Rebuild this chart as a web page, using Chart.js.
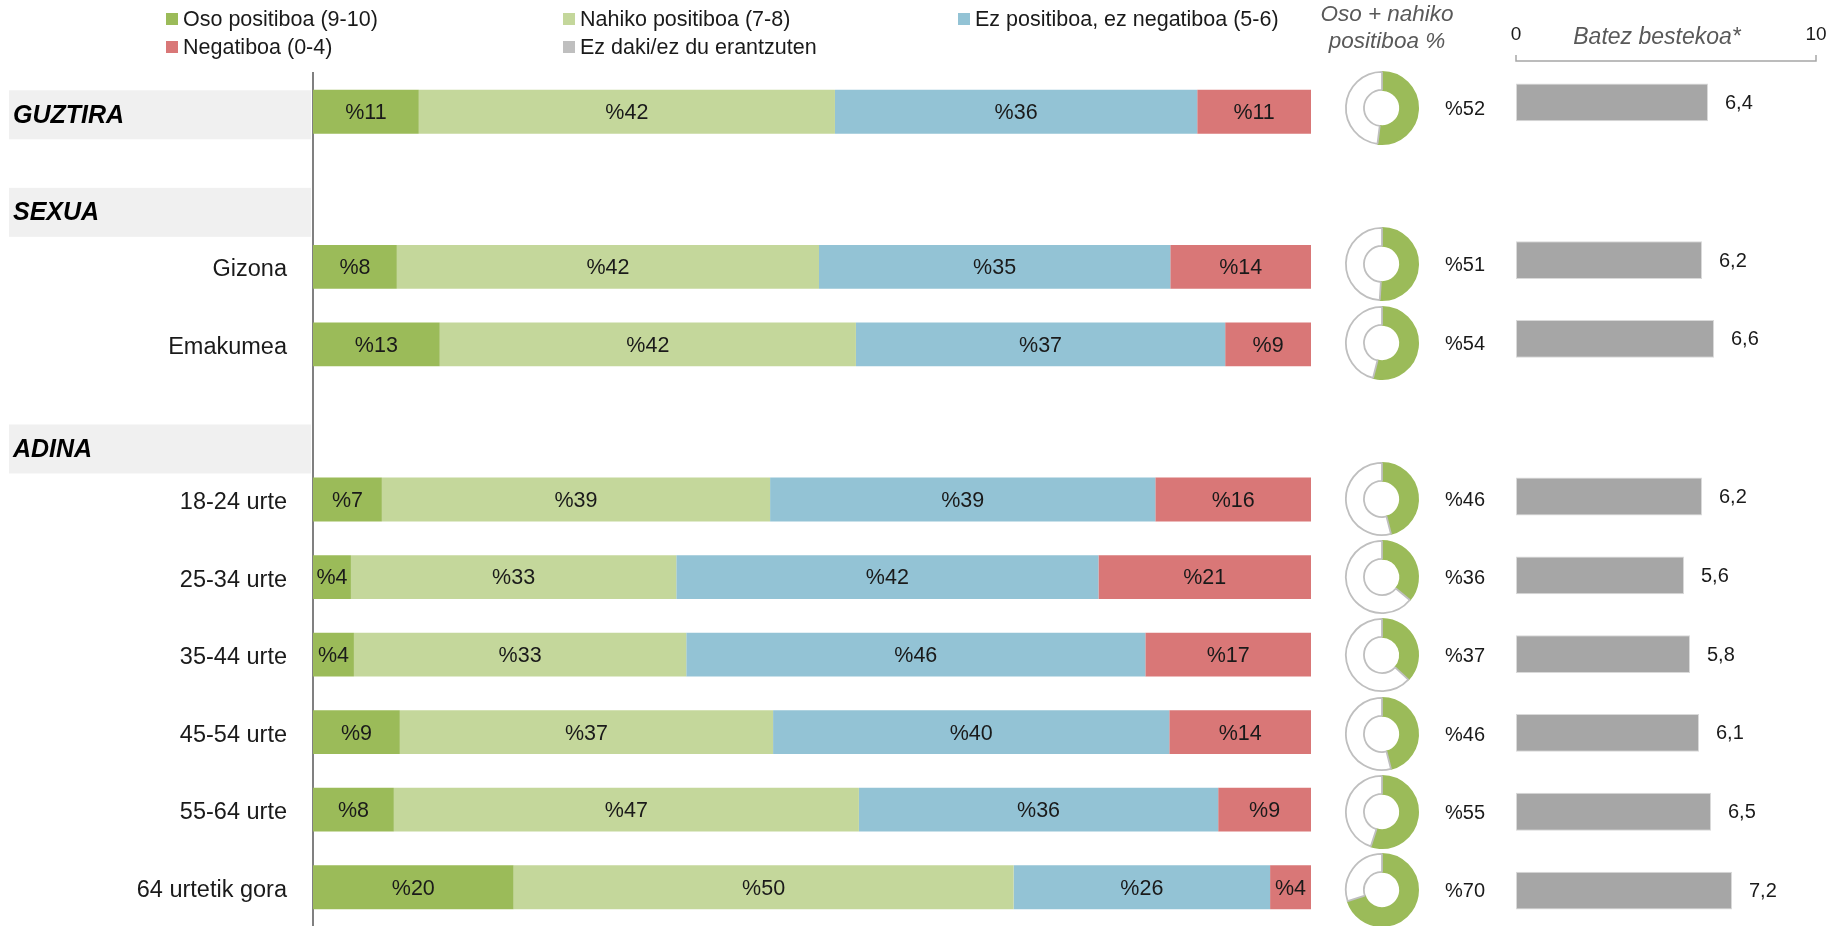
<!DOCTYPE html>
<html>
<head>
<meta charset="utf-8">
<script src="https://cdn.jsdelivr.net/npm/chart.js@4.4.1/dist/chart.umd.min.js"></script>
<style>
  html, body { margin: 0; padding: 0; background: #fff; overflow: hidden; }
  #wrap { position: relative; width: 1843px; height: 926px; overflow: hidden; }
  #wrap canvas { position: absolute; }
</style>
</head>
<body>
<div id="wrap">
  <canvas id="main" width="1843" height="926" style="left:0;top:0"></canvas>
  <canvas id="mean" width="363" height="930" style="left:1480px;top:0"></canvas>
</div>
<script>
// rows of the chart (section headers included as empty rows)
const categories = ['GUZTIRA', 'SEXUA', 'Gizona', 'Emakumea', 'ADINA',
  '18-24 urte', '25-34 urte', '35-44 urte', '45-54 urte', '55-64 urte', '64 urtetik gora'];
const headerRows = ['GUZTIRA', 'SEXUA', 'ADINA'];

// % of answers per group (labels are rounded)
const osoPositiboa    = [10.6, null,  8.4, 12.7, null,  6.9,  3.8,  4.1,  8.7,  8.1, 20.1];
const nahikoPositiboa = [41.7, null, 42.3, 41.7, null, 38.9, 32.6, 33.3, 37.4, 46.6, 50.1];
const ezPosEzNeg      = [36.3, null, 35.2, 37.0, null, 38.6, 42.3, 46.0, 39.7, 36.0, 25.7];
const negatiboa       = [11.4, null, 14.1,  8.6, null, 15.6, 21.3, 16.6, 14.2,  9.3,  4.1];
const ezDaki          = [0,    null,  0,    0,   null,  0,    0,    0,    0,    0,    0];

// oso + nahiko positiboa %
const positiveShare = [52, null, 51, 54, null, 46, 36, 37, 46, 55, 70];
// batez bestekoa (0-10)
const meanScore = [6.4, null, 6.2, 6.6, null, 6.2, 5.6, 5.8, 6.1, 6.5, 7.2];

const FONT = "'Liberation Sans', Arial, sans-serif";
Chart.defaults.font.family = FONT;
Chart.defaults.color = '#1a1a1a';
Chart.defaults.maintainAspectRatio = false;

const sections = {
  id: 'sections',
  beforeDraw(chart, args, opts) {
    const ctx = chart.ctx, y = chart.scales.y;
    ctx.save();
    ctx.fillStyle = '#f0f0f0';
    opts.headers.forEach(h => {
      const cy = y.getPixelForValue(categories.indexOf(h.name)) + h.shift;
      ctx.fillRect(9, cy - 24.5, 302, 49);
    });
    ctx.restore();
  },
  afterDraw(chart, args, opts) {
    const ctx = chart.ctx, y = chart.scales.y;
    ctx.save();
    ctx.fillStyle = '#000';
    ctx.font = `italic bold 25px ${FONT}`;
    ctx.textAlign = 'left';
    ctx.textBaseline = 'middle';
    opts.headers.forEach(h => {
      const cy = y.getPixelForValue(categories.indexOf(h.name)) + h.shift;
      ctx.fillText(h.name, 13, cy + 1);
    });
    // title of the donut column
    ctx.fillStyle = '#595959';
    ctx.font = `italic 22.5px ${FONT}`;
    ctx.textAlign = 'center';
    ctx.fillText('Oso + nahiko', 1387, 15);
    ctx.fillText('positiboa %', 1387, 42);
    ctx.restore();
  }
};

const segmentLabels = {
  id: 'segmentLabels',
  afterDatasetsDraw(chart) {
    const ctx = chart.ctx;
    ctx.save();
    ctx.font = `21.5px ${FONT}`;
    ctx.fillStyle = '#1a1a1a';
    ctx.textAlign = 'center';
    ctx.textBaseline = 'middle';
    chart.data.datasets.forEach((ds, di) => {
      chart.getDatasetMeta(di).data.forEach((bar, i) => {
        const v = ds.data[i];
        if (v == null || v < 1) return;
        ctx.fillText('%' + Math.round(v), (bar.x + bar.base) / 2, bar.y + 1.5);
      });
    });
    ctx.restore();
  }
};

const legendBoxes = {
  id: 'legendBoxes',
  afterDraw(chart, args, opts) {
    const ctx = chart.ctx;
    ctx.save();
    ctx.font = `21.5px ${FONT}`;
    ctx.textAlign = 'left';
    ctx.textBaseline = 'middle';
    chart.data.datasets.forEach((ds, i) => {
      const x = opts.cols[i % 3], y = opts.rows[Math.floor(i / 3)];
      ctx.fillStyle = ds.backgroundColor;
      ctx.fillRect(x, y - 6, 12, 12);
      ctx.fillStyle = '#1a1a1a';
      ctx.fillText(ds.label, x + 17, y + 1);
    });
    ctx.restore();
  }
};

const mainChart = new Chart(document.getElementById('main'), {
  type: 'bar',
  data: {
    labels: categories,
    datasets: [
      { label: 'Oso positiboa (9-10)', data: osoPositiboa, backgroundColor: '#9bbb59' },
      { label: 'Nahiko positiboa (7-8)', data: nahikoPositiboa, backgroundColor: '#c4d79b' },
      { label: 'Ez positiboa, ez negatiboa (5-6)', data: ezPosEzNeg, backgroundColor: '#93c3d5' },
      { label: 'Negatiboa (0-4)', data: negatiboa, backgroundColor: '#d97777' },
      { label: 'Ez daki/ez du erantzuten', data: ezDaki, backgroundColor: '#bfbfbf' }
    ]
  },
  options: {
    indexAxis: 'y',
    responsive: false,
    animation: false,
    events: [],
    layout: { padding: { left: 0, right: 532, top: 73, bottom: 0 } },
    datasets: { bar: { categoryPercentage: 1, barPercentage: 0.565 } },
    plugins: {
      legend: { display: false },
      tooltip: { enabled: false },
      sections: { headers: [
        { name: 'GUZTIRA', shift: 3 },
        { name: 'SEXUA', shift: 23 },
        { name: 'ADINA', shift: 27 }
      ] },
      legendBoxes: { cols: [166, 563, 958], rows: [19, 47] }
    },
    scales: {
      x: { stacked: true, min: 0, max: 100, display: false },
      y: {
        stacked: true,
        grid: { display: false, drawTicks: false },
        border: { display: true, color: '#808080', width: 2 },
        ticks: {
          padding: 26,
          labelOffset: 3,
          font: { size: 23.5 },
          color: '#1a1a1a',
          callback: (v, i) => headerRows.includes(categories[i]) ? '' : categories[i]
        },
        afterFit: s => { s.width = 313; s.paddingTop = 0; s.paddingBottom = 0; }
      }
    }
  },
  plugins: [sections, segmentLabels, legendBoxes]
});

// mean score bars
const meanLabels = {
  id: 'meanLabels',
  afterDraw(chart) {
    const ctx = chart.ctx, x = chart.scales.x;
    ctx.save();
    ctx.font = `20px ${FONT}`;
    ctx.fillStyle = '#1a1a1a';
    ctx.textAlign = 'left';
    ctx.textBaseline = 'middle';
    chart.getDatasetMeta(0).data.forEach((bar, i) => {
      const v = meanScore[i];
      if (v == null) return;
      ctx.fillText(v.toFixed(1).replace('.', ','), bar.x + 17, bar.y + 1);
    });
    const x0 = x.getPixelForValue(0), x1 = x.getPixelForValue(10);
    ctx.textAlign = 'center';
    ctx.font = `19px ${FONT}`;
    ctx.fillText('0', x0, 35);
    ctx.fillText('10', x1, 35);
    ctx.fillStyle = '#595959';
    ctx.font = `italic 23px ${FONT}`;
    ctx.fillText('Batez bestekoa*', (x0 + x1) / 2 - 9, 38);
    ctx.strokeStyle = '#a6a6a6';
    ctx.lineWidth = 1.5;
    ctx.beginPath();
    ctx.moveTo(x0, 55); ctx.lineTo(x0, 61); ctx.lineTo(x1, 61); ctx.lineTo(x1, 55);
    ctx.stroke();
    ctx.restore();
  }
};

new Chart(document.getElementById('mean'), {
  type: 'bar',
  data: {
    labels: categories,
    datasets: [{ data: meanScore, backgroundColor: '#a6a6a6', borderColor: '#d9d9d9', borderWidth: 1, borderSkipped: false }]
  },
  options: {
    indexAxis: 'y',
    responsive: false,
    animation: false,
    events: [],
    layout: { padding: { left: 36, right: 27, top: 63, bottom: 0 } },
    datasets: { bar: { categoryPercentage: 1, barPercentage: 0.48 } },
    plugins: { legend: { display: false }, tooltip: { enabled: false } },
    scales: {
      x: { min: 0, max: 10, display: false },
      y: { display: false }
    }
  },
  plugins: [meanLabels]
});

// one small doughnut per row
const donutLabel = {
  id: 'donutLabel',
  afterDraw(chart) {
    const ctx = chart.ctx;
    ctx.save();
    ctx.font = `20px ${FONT}`;
    ctx.fillStyle = '#1a1a1a';
    ctx.textAlign = 'center';
    ctx.textBaseline = 'middle';
    ctx.fillText('%' + chart.data.datasets[0].data[0], 121, 40);
    ctx.restore();
  }
};

const wrap = document.getElementById('wrap');
positiveShare.forEach((v, i) => {
  if (v == null) return;
  const cv = document.createElement('canvas');
  cv.width = 170;
  cv.height = 78;
  cv.style.left = '1344px';
  cv.style.top = (108 + i * 78.2 - 39) + 'px';
  wrap.appendChild(cv);
  new Chart(cv, {
    type: 'doughnut',
    data: {
      datasets: [{
        data: [v, 100 - v],
        backgroundColor: ['#9bbb59', '#ffffff'],
        borderColor: ['#9bbb59', '#bfbfbf'],
        borderWidth: 1.8
      }]
    },
    options: {
      responsive: false,
      animation: false,
      events: [],
      cutout: '50%',
      layout: { padding: { left: 1, top: 2, bottom: 2, right: 95 } },
      plugins: { legend: { display: false }, tooltip: { enabled: false } }
    },
    plugins: [donutLabel]
  });
});
</script>
</body>
</html>
